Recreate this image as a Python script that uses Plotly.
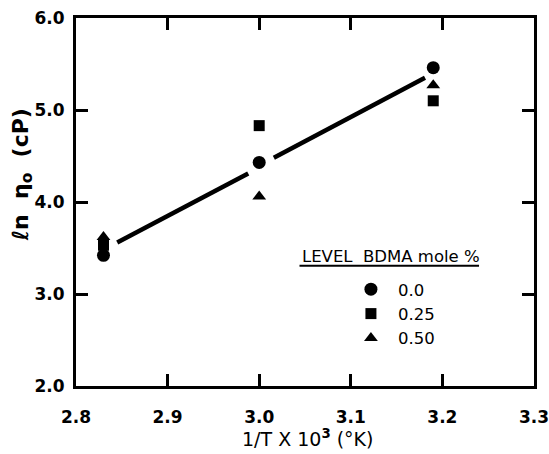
import plotly.graph_objects as go

# Data
x_vals = [2.83, 3.00, 3.19]
ln_eta_0_00 = [3.42, 4.43, 5.46]   # circle, 0.0 mole %
ln_eta_0_25 = [3.53, 4.83, 5.10]   # square, 0.25 mole %
ln_eta_0_50 = [3.62, 4.06, 5.27]   # triangle, 0.50 mole %
series_names = ["0.0", "0.25", "0.50"]

# Fitted line (drawn in two pieces, broken around the middle circle)
fit_x1 = [2.845, 2.988]
fit_y1 = [3.56, 4.31]
fit_x2 = [3.016, 3.181]
fit_y2 = [4.48, 5.35]

x_ticks = [2.8, 2.9, 3.0, 3.1, 3.2, 3.3]
x_ticktext = ["2.8", "2.9", "3.0", "3.1", "3.2", "3.3"]
y_ticks = [2.0, 3.0, 4.0, 5.0, 6.0]
y_ticktext = ["2.0", "3.0", "4.0", "5.0", "6.0"]

FONT = "DejaVu Sans"

fig = go.Figure()
fig.add_trace(go.Scatter(x=fit_x1, y=fit_y1, mode="lines",
                         line=dict(color="black", width=4.5), showlegend=False, hoverinfo="skip"))
fig.add_trace(go.Scatter(x=fit_x2, y=fit_y2, mode="lines",
                         line=dict(color="black", width=4.5), showlegend=False, hoverinfo="skip"))

fig.add_trace(go.Scatter(x=x_vals, y=ln_eta_0_00, mode="markers", name=series_names[0],
                         marker=dict(symbol="circle", size=13, color="black")))
fig.add_trace(go.Scatter(x=x_vals, y=ln_eta_0_25, mode="markers", name=series_names[1],
                         marker=dict(symbol="square", size=11, color="black")))
fig.add_trace(go.Scatter(x=x_vals, y=ln_eta_0_50, mode="markers", name=series_names[2],
                         marker=dict(symbol="triangle-up", size=12, color="black")))

axis_common = dict(
    showgrid=False, zeroline=False, showline=True, linecolor="black", linewidth=3,
    mirror="ticks", ticks="inside", tickcolor="black", tickwidth=2.5, automargin=False,
    ticklabeloverflow="allow",
    tickfont=dict(family=FONT, size=17, color="black", weight="bold"),
)

fig.update_xaxes(range=[2.8, 3.3], tickvals=x_ticks, ticktext=x_ticktext, ticklen=12,
                 ticklabelstandoff=14, **axis_common)
fig.update_yaxes(range=[2.0, 6.0], tickvals=y_ticks, ticktext=y_ticktext, ticklen=12,
                 ticklabelstandoff=5, **axis_common)

# Axis titles
fig.add_annotation(xref="paper", yref="paper", x=0.505, y=-0.14, xanchor="center", yanchor="middle",
                   text="1/T X 10<sup><b>3</b></sup> (°K)", showarrow=False,
                   font=dict(family=FONT, size=19, color="black"))
fig.add_annotation(xref="paper", yref="paper", x=-0.118, y=0.575, xanchor="center", yanchor="middle",
                   text="<b>ℓn  η<sub>o</sub>  (cP)</b>", showarrow=False, textangle=-90,
                   font=dict(family=FONT, size=22, color="black"))

# Legend heading (underlined)
fig.add_annotation(xref="paper", yref="paper", x=0.488, y=0.352, xanchor="left", yanchor="middle",
                   text="LEVEL  BDMA mole %", showarrow=False,
                   font=dict(family=FONT, size=16.5, color="black"))
fig.add_shape(type="line", xref="paper", yref="paper", x0=0.488, x1=0.88, y0=0.327, y1=0.327,
              line=dict(color="black", width=2))

fig.update_layout(
    width=549, height=454,
    margin=dict(l=76, r=15, t=18, b=68, autoexpand=False),
    paper_bgcolor="white", plot_bgcolor="white",
    showlegend=True,
    legend=dict(x=0.585, y=0.31, xanchor="left", yanchor="top",
                font=dict(family=FONT, size=16.5, color="black"),
                bgcolor="rgba(0,0,0,0)", itemwidth=44, tracegroupgap=0),
)

fig.write_html("out.html")
